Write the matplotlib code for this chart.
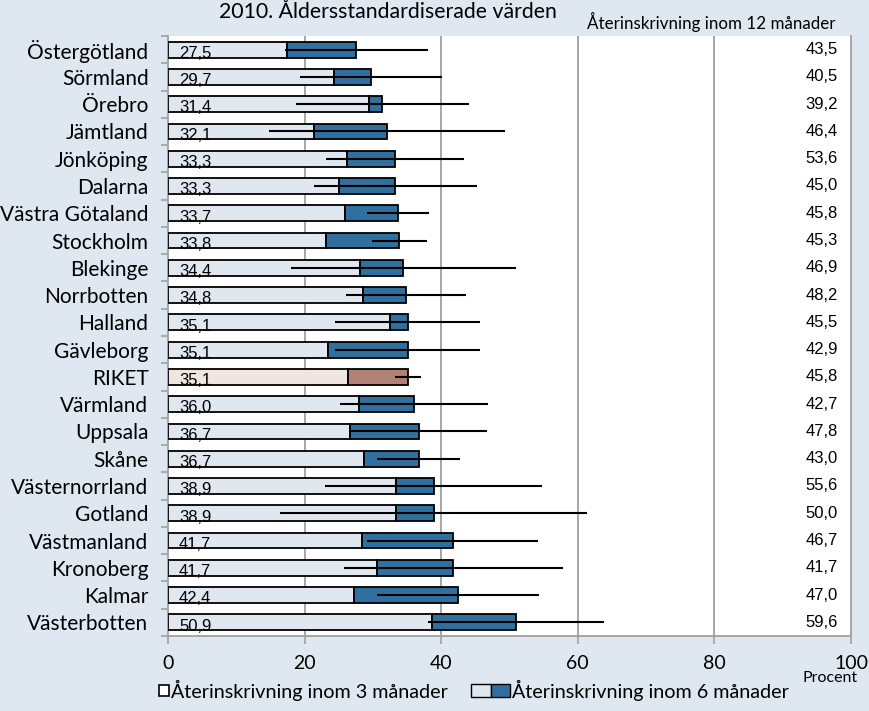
import matplotlib.pyplot as plt
from matplotlib.patches import Rectangle
import numpy as np

regions = ['Östergötland', 'Sörmland', 'Örebro', 'Jämtland', 'Jönköping', 'Dalarna',
           'Västra Götaland', 'Stockholm', 'Blekinge', 'Norrbotten', 'Halland', 'Gävleborg',
           'RIKET', 'Värmland', 'Uppsala', 'Skåne', 'Västernorrland', 'Gotland',
           'Västmanland', 'Kronoberg', 'Kalmar', 'Västerbotten']
# readmission within 3 months (end of light bar)
m3 = [17.4, 24.3, 29.4, 21.4, 26.2, 25.0, 25.9, 23.2, 28.1, 28.6, 32.5, 23.4,
      26.4, 28.0, 26.6, 28.7, 33.4, 33.4, 28.4, 30.6, 27.3, 38.6]
# readmission within 6 months (labelled value)
m6 = [27.5, 29.7, 31.4, 32.1, 33.3, 33.3, 33.7, 33.8, 34.4, 34.8, 35.1, 35.1,
      35.1, 36.0, 36.7, 36.7, 38.9, 38.9, 41.7, 41.7, 42.4, 50.9]
# confidence interval around the 6 month value
ci_lo = [17.1, 19.3, 18.7, 14.8, 23.2, 21.4, 29.2, 29.8, 18.0, 26.1, 24.5, 24.5,
         33.2, 25.2, 26.7, 30.6, 23.0, 16.4, 29.2, 25.7, 30.6, 38.0]
ci_hi = [38.0, 40.1, 44.1, 49.4, 43.4, 45.3, 38.2, 37.9, 50.9, 43.6, 45.7, 45.7,
         37.0, 46.9, 46.7, 42.8, 54.8, 61.4, 54.1, 57.8, 54.3, 63.8]
# readmission within 12 months (right column)
m12 = [43.5, 40.5, 39.2, 46.4, 53.6, 45.0, 45.8, 45.3, 46.9, 48.2, 45.5, 42.9,
       45.8, 42.7, 47.8, 43.0, 55.6, 50.0, 46.7, 41.7, 47.0, 59.6]
xticks = [0, 20, 40, 60, 80, 100]

bg = '#dfe8f1'
light = '#e1e7ef'
blue = '#31709e'
riket_light = '#f1e5e0'
riket_dark = '#b08374'
grid_c = '#a0a0a0'
cat_font = 'Lato'
num_font = 'Liberation Sans'

fig = plt.figure(figsize=(8.7, 7.11), dpi=100, facecolor=bg)
ax = fig.add_axes([168 / 870, 1 - 636 / 711, (851 - 168) / 870, 600 / 711])
ax.set_facecolor('white')

y = np.arange(len(regions))
m3a = np.array(m3)
m6a = np.array(m6)
c_light = [riket_light if r == 'RIKET' else light for r in regions]
c_dark = [riket_dark if r == 'RIKET' else blue for r in regions]

ax.barh(y, m3a, height=0.58, color=c_light, edgecolor='black', linewidth=1.3, zorder=3)
ax.barh(y, m6a - m3a, left=m3a, height=0.58, color=c_dark, edgecolor='black',
        linewidth=1.3, zorder=3)
ax.hlines(y, ci_lo, ci_hi, color='black', linewidth=1.5, zorder=4)

for yi, v in zip(y, m6):
    ax.text(1.6, yi + 0.14, f'{v:.1f}'.replace('.', ','), ha='left', va='center',
            fontsize=12, family=num_font, zorder=5)
for yi, v in zip(y, m12):
    ax.text(98.1, yi, f'{v:.1f}'.replace('.', ','), ha='right', va='center',
            fontsize=12, family=num_font, zorder=5)

ax.set_xlim(0, 100)
ax.set_ylim(len(regions) - 0.5, -0.5)
ax.set_xticks(xticks)
ax.set_xticklabels([str(t) for t in xticks], fontsize=14, family=cat_font)
ax.tick_params(axis='x', length=6, width=1.2, color=grid_c, pad=8)
ax.set_yticks(y)
ax.set_yticklabels(regions, fontsize=15, family=cat_font)
ax.tick_params(axis='y', length=0, pad=14)
ax.set_yticks(np.arange(len(regions) + 1) - 0.5, minor=True)
ax.tick_params(axis='y', which='minor', length=5, width=1.2, color=grid_c)

for t in xticks[1:-1]:
    ax.axvline(t, color=grid_c, linewidth=1.3, zorder=1)
for s in ax.spines.values():
    s.set_color(grid_c)
    s.set_linewidth(1.3)
ax.spines['top'].set_visible(False)

fig.text(388 / 870, 1 - 12 / 711, '2010. Åldersstandardiserade värden', ha='center',
         va='center', fontsize=15.3, family=cat_font)
fig.text(711 / 870, 1 - 22 / 711, 'Återinskrivning inom 12 månader', ha='center',
         va='center', fontsize=12.2, family=cat_font)
fig.text(830 / 870, 1 - 678 / 711, 'Procent', ha='center', va='center',
         fontsize=11.5, family=cat_font)

# legend
fig.patches.append(Rectangle((159 / 870, 1 - 696 / 711), 10 / 870, 11 / 711,
                             transform=fig.transFigure, facecolor='white',
                             edgecolor='black', linewidth=1.2))
fig.text(171 / 870, 1 - 690 / 711, 'Återinskrivning inom 3 månader', ha='left',
         va='center', fontsize=14.2, family=cat_font)
fig.patches.append(Rectangle((471 / 870, 1 - 697 / 711), 20 / 870, 13 / 711,
                             transform=fig.transFigure, facecolor=light,
                             edgecolor='black', linewidth=1.0))
fig.patches.append(Rectangle((491 / 870, 1 - 697 / 711), 19 / 870, 13 / 711,
                             transform=fig.transFigure, facecolor=blue,
                             edgecolor='black', linewidth=1.0))
fig.text(512 / 870, 1 - 690 / 711, 'Återinskrivning inom 6 månader', ha='left',
         va='center', fontsize=14.2, family=cat_font)

fig.savefig('out.png', dpi=100, facecolor=bg)
